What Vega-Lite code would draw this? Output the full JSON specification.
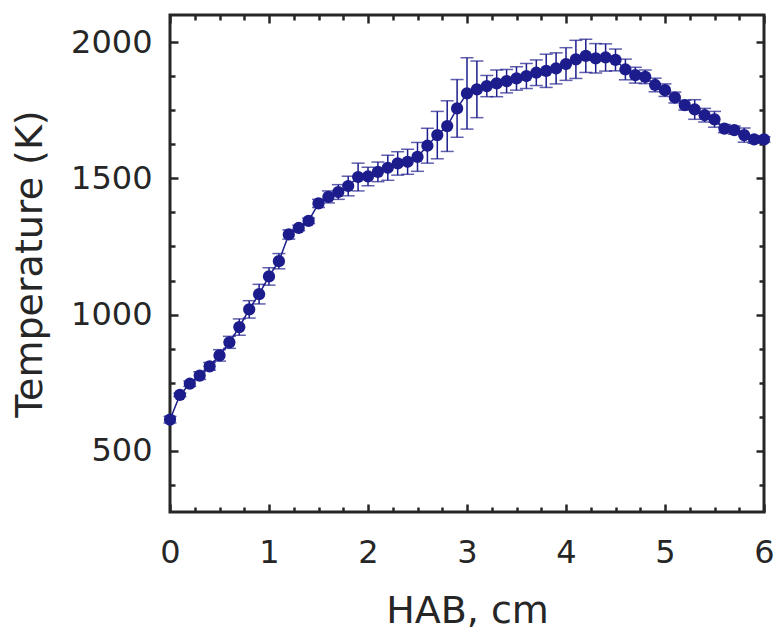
{
  "$schema": "https://vega.github.io/schema/vega-lite/v6.json",
  "autosize": "none",
  "width": 594,
  "height": 497,
  "padding": {"left": 170, "top": 15, "right": 10, "bottom": 125},
  "background": "white",
  "config": {
    "view": {"stroke": "#262626", "strokeWidth": 3},
    "font": "DejaVu Sans",
    "axis": {
      "domain": false,
      "grid": false,
      "labelFont": "DejaVu Sans",
      "titleFont": "DejaVu Sans",
      "labelColor": "#262626",
      "titleColor": "#262626",
      "tickColor": "#262626",
      "tickWidth": 2.5,
      "labelFontSize": 32,
      "titleFontSize": 38,
      "titleFontWeight": "normal"
    }
  },
  "data": {
    "values": [
      {"x": 0.0, "T": 614, "e": 12},
      {"x": 0.1, "T": 705, "e": 6},
      {"x": 0.2, "T": 746, "e": 10},
      {"x": 0.3, "T": 776, "e": 14},
      {"x": 0.4, "T": 810, "e": 14},
      {"x": 0.5, "T": 850, "e": 21},
      {"x": 0.6, "T": 898, "e": 22},
      {"x": 0.7, "T": 954, "e": 30},
      {"x": 0.8, "T": 1019, "e": 32},
      {"x": 0.9, "T": 1075, "e": 36},
      {"x": 1.0, "T": 1140, "e": 32},
      {"x": 1.1, "T": 1196, "e": 28},
      {"x": 1.2, "T": 1294, "e": 17},
      {"x": 1.3, "T": 1318, "e": 10},
      {"x": 1.4, "T": 1344, "e": 10},
      {"x": 1.5, "T": 1408, "e": 15},
      {"x": 1.6, "T": 1432, "e": 22},
      {"x": 1.7, "T": 1450, "e": 27},
      {"x": 1.8, "T": 1472, "e": 36},
      {"x": 1.9, "T": 1505, "e": 51},
      {"x": 2.0, "T": 1507, "e": 34},
      {"x": 2.1, "T": 1524, "e": 36},
      {"x": 2.2, "T": 1539, "e": 46},
      {"x": 2.3, "T": 1555, "e": 43},
      {"x": 2.4, "T": 1561, "e": 46},
      {"x": 2.5, "T": 1579, "e": 53},
      {"x": 2.6, "T": 1620, "e": 64},
      {"x": 2.7, "T": 1659, "e": 87},
      {"x": 2.8, "T": 1692, "e": 93},
      {"x": 2.9, "T": 1757, "e": 106},
      {"x": 3.0, "T": 1812, "e": 131},
      {"x": 3.1, "T": 1827, "e": 104},
      {"x": 3.2, "T": 1839, "e": 39},
      {"x": 3.3, "T": 1849, "e": 49},
      {"x": 3.4, "T": 1857, "e": 43},
      {"x": 3.5, "T": 1867, "e": 43},
      {"x": 3.6, "T": 1876, "e": 46},
      {"x": 3.7, "T": 1888, "e": 47},
      {"x": 3.8, "T": 1895, "e": 61},
      {"x": 3.9, "T": 1904, "e": 57},
      {"x": 4.0, "T": 1920, "e": 60},
      {"x": 4.1, "T": 1937, "e": 70},
      {"x": 4.2, "T": 1950, "e": 61},
      {"x": 4.3, "T": 1941, "e": 54},
      {"x": 4.4, "T": 1944, "e": 50},
      {"x": 4.5, "T": 1935, "e": 40},
      {"x": 4.6, "T": 1900, "e": 38},
      {"x": 4.7, "T": 1879, "e": 29},
      {"x": 4.8, "T": 1873, "e": 25},
      {"x": 4.9, "T": 1843, "e": 25},
      {"x": 5.0, "T": 1824, "e": 23},
      {"x": 5.1, "T": 1797, "e": 20},
      {"x": 5.2, "T": 1769, "e": 18},
      {"x": 5.3, "T": 1753, "e": 36},
      {"x": 5.4, "T": 1732, "e": 25},
      {"x": 5.5, "T": 1717, "e": 29},
      {"x": 5.6, "T": 1683, "e": 15},
      {"x": 5.7, "T": 1677, "e": 15},
      {"x": 5.8, "T": 1659, "e": 26},
      {"x": 5.9, "T": 1643, "e": 14},
      {"x": 6.0, "T": 1643, "e": 10}
    ]
  },
  "resolve": {"axis": {"x": "independent", "y": "independent"}},
  "layer": [
    {
      "mark": {"type": "errorbar", "color": "#1c1c8c", "thickness": 1.5, "ticks": {"size": 13, "color": "#1c1c8c"}},
      "encoding": {
        "x": {"field": "x", "type": "quantitative", "scale": {"domain": [0, 6], "nice": false, "zero": false}, "axis": null},
        "y": {"field": "T", "type": "quantitative", "scale": {"domain": [275, 2100], "nice": false, "zero": false}, "axis": null},
        "yError": {"field": "e"}
      }
    },
    {
      "mark": {"type": "line", "color": "#1c1c8c", "strokeWidth": 1.5},
      "encoding": {
        "x": {"field": "x", "type": "quantitative", "axis": {
          "orient": "top", "title": null, "labels": false,
          "values": [0,0.25,0.5,0.75,1,1.25,1.5,1.75,2,2.25,2.5,2.75,3,3.25,3.5,3.75,4,4.25,4.5,4.75,5,5.25,5.5,5.75,6],
          "tickSize": {"condition": {"test": "datum.value % 1 === 0", "value": -8}, "value": -5}
        }},
        "y": {"field": "T", "type": "quantitative", "axis": {
          "orient": "right", "title": null, "labels": false,
          "values": [375,500,625,750,875,1000,1125,1250,1375,1500,1625,1750,1875,2000],
          "tickSize": {"condition": {"test": "datum.value % 500 === 0", "value": -8}, "value": -5}
        }}
      }
    },
    {
      "mark": {"type": "point", "filled": true, "color": "#1c1c8c", "size": 150, "opacity": 1},
      "encoding": {
        "x": {"field": "x", "type": "quantitative", "axis": {
          "orient": "bottom", "title": "HAB, cm",
          "values": [0,0.25,0.5,0.75,1,1.25,1.5,1.75,2,2.25,2.5,2.75,3,3.25,3.5,3.75,4,4.25,4.5,4.75,5,5.25,5.5,5.75,6],
          "labelExpr": "datum.value % 1 === 0 ? format(datum.value, 'd') : ''",
          "tickSize": {"condition": {"test": "datum.value % 1 === 0", "value": -8}, "value": -5},
          "labelPadding": 33, "titlePadding": 24, "labelFlush": false
        }},
        "y": {"field": "T", "type": "quantitative", "axis": {
          "orient": "left", "title": "Temperature (K)",
          "values": [375,500,625,750,875,1000,1125,1250,1375,1500,1625,1750,1875,2000],
          "labelExpr": "datum.value % 500 === 0 ? format(datum.value, 'd') : ''",
          "tickSize": {"condition": {"test": "datum.value % 500 === 0", "value": -8}, "value": -5},
          "labelPadding": 26, "titlePadding": 21
        }}
      }
    }
  ]
}
